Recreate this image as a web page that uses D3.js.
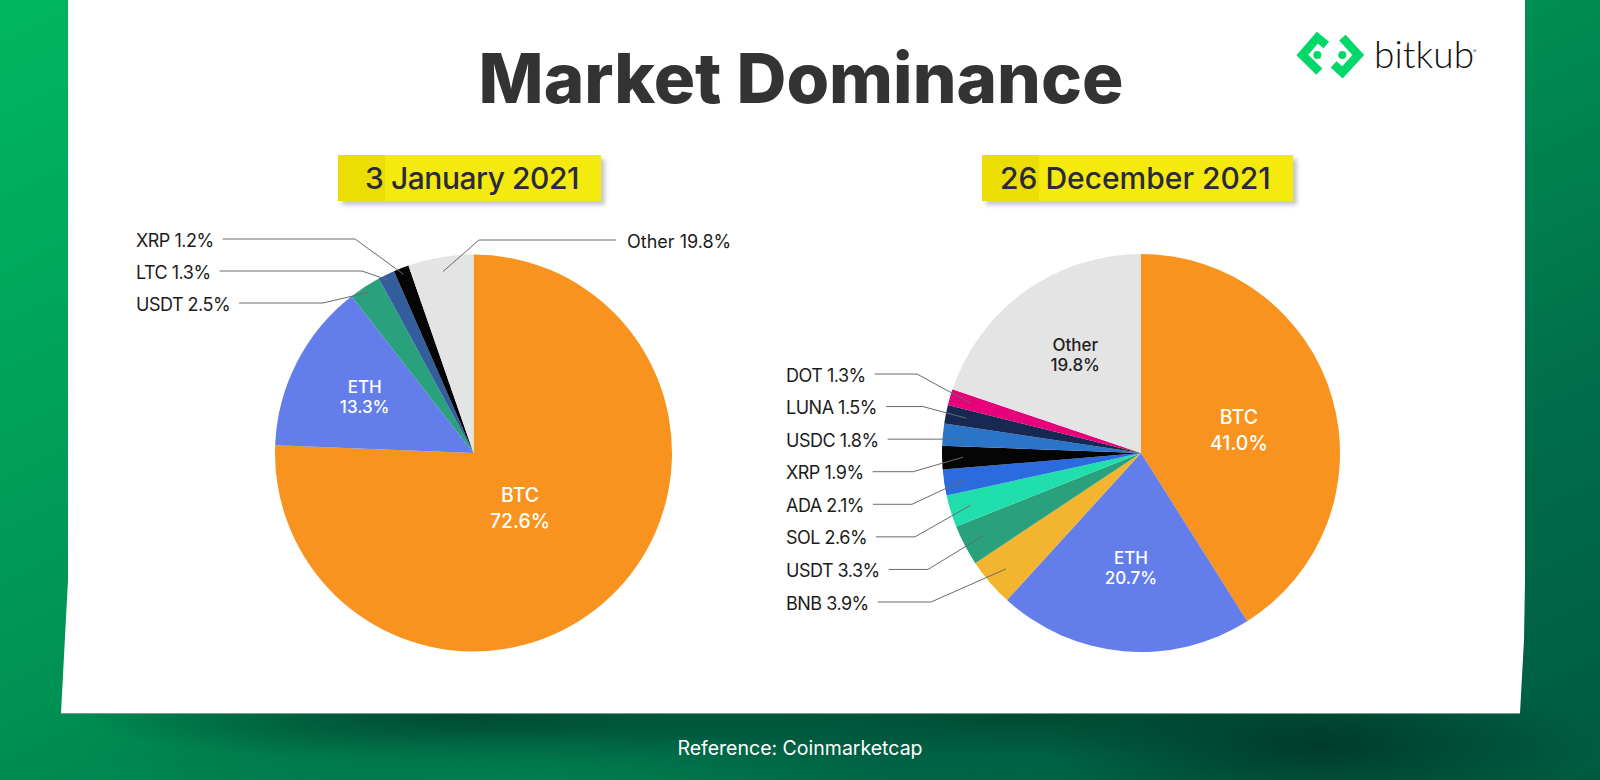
<!DOCTYPE html>
<html>
<head>
<meta charset="utf-8">
<title>Market Dominance</title>
<script src="https://d3js.org/d3.v7.min.js"></script>
<style>
  html, body { margin: 0; padding: 0; background: #00704c; }
  svg { display: block; }
  text { font-family: Inter, "Noto Sans", sans-serif; }
</style>
</head>
<body>
<div id="chart"></div>
<script>
// January pie. The "Other" wedge is drawn much smaller than its printed 19.8%
const janNames = ["BTC", "ETH", "USDT", "LTC", "XRP", "Other"];
const janSlices = [72.6, 13.3, 2.5, 1.3, 1.2, 5.1];
const janPrinted = [72.6, 13.3, 2.5, 1.3, 1.2, 19.8];
const janColors = ["#f7931e", "#637dea", "#28a17c", "#345d9d", "#050505", "#e4e4e4"];

// December pie
const decNames = ["BTC", "ETH", "BNB", "USDT", "SOL", "ADA", "XRP", "USDC", "LUNA", "DOT", "Other"];
const decSlices = [41.0, 20.7, 3.9, 3.3, 2.6, 2.1, 1.9, 1.8, 1.5, 1.3, 19.8];
const decColors = ["#f7931e", "#637dea", "#f3b52f", "#28a17c", "#20dfad", "#2a6bdd", "#050505", "#2a74c9", "#172852", "#e6007a", "#e4e4e4"];

const width = 1600, height = 780;

const svg = d3.select("#chart").append("svg")
    .attr("width", width)
    .attr("height", height);

const defs = svg.append("defs");

// background gradients
const bgGrad = defs.append("linearGradient").attr("id", "bg")
    .attr("x1", 0).attr("y1", 0).attr("x2", 1).attr("y2", 1);
bgGrad.append("stop").attr("offset", "0%").attr("stop-color", "#00b75f");
bgGrad.append("stop").attr("offset", "45%").attr("stop-color", "#009254");
bgGrad.append("stop").attr("offset", "75%").attr("stop-color", "#006d4a");
bgGrad.append("stop").attr("offset", "100%").attr("stop-color", "#005a40");

function glow(id, color, alpha) {
  const g = defs.append("radialGradient").attr("id", id);
  g.append("stop").attr("offset", "0%").attr("stop-color", color).attr("stop-opacity", alpha);
  g.append("stop").attr("offset", "100%").attr("stop-color", color).attr("stop-opacity", 0);
}
glow("darkGlow", "#003a2a", 1);
glow("midGlow", "#004a32", 1);
glow("lightGlow", "#007f4f", 1);
glow("wideShade", "#005e41", 0.9);

const shadow = defs.append("filter").attr("id", "noteShadow")
    .attr("x", "-5%").attr("y", "-10%").attr("width", "115%").attr("height", "130%");
shadow.append("feDropShadow")
    .attr("dx", 4).attr("dy", 4).attr("stdDeviation", 2)
    .attr("flood-color", "#000").attr("flood-opacity", 0.22);

defs.append("clipPath").attr("id", "bandClip")
  .append("rect").attr("x", 0).attr("y", 700).attr("width", width).attr("height", 80);

svg.append("rect").attr("width", width).attr("height", height).attr("fill", "url(#bg)");

// footer band glows
const band = svg.append("g").attr("clip-path", "url(#bandClip)");
const bandGlow = (cx, cy, rx, ry, fill) => band.append("ellipse")
    .attr("cx", cx).attr("cy", cy).attr("rx", rx).attr("ry", ry).attr("fill", fill);
bandGlow(800, 745, 720, 90, "url(#wideShade)");
bandGlow(470, 715, 400, 48, "url(#midGlow)");
bandGlow(1040, 715, 420, 42, "url(#midGlow)");
bandGlow(1320, 745, 280, 70, "url(#darkGlow)");
bandGlow(520, 785, 400, 55, "url(#lightGlow)");

// the paper sheet
svg.append("path")
    .attr("d", "M68,0 L68,580 L61,713 L1520,713 L1524,640 L1525,580 L1525,0 Z")
    .attr("fill", "#fff");
svg.append("line")
    .attr("x1", 61).attr("x2", 1520).attr("y1", 713.5).attr("y2", 713.5)
    .attr("stroke", "#7c9a8c").attr("stroke-width", 1);

// title
svg.append("text")
    .attr("x", 801).attr("y", 103)
    .attr("text-anchor", "middle")
    .attr("font-size", 69)
    .attr("font-weight", 800)
    .attr("fill", "#333333")
    .text("Market Dominance");

// logo
const logo = svg.append("g").attr("transform", "translate(1285,25) scale(0.3333)");
logo.append("path")
    .attr("d", "M124,60 L97,38 L52,90 L103,140")
    .attr("fill", "none").attr("stroke", "#00d96a").attr("stroke-width", 26);
logo.append("path")
    .attr("d", "M172,38 L220,90 L172,142 L146,118")
    .attr("fill", "none").attr("stroke", "#00d96a").attr("stroke-width", 26);
logo.selectAll("circle").data([97, 172]).join("circle")
    .attr("cx", d => d).attr("cy", 90).attr("r", 12).attr("fill", "#00d96a");
svg.append("text")
    .attr("x", 1374).attr("y", 68)
    .attr("font-size", 37)
    .attr("font-weight", 300)
    .attr("letter-spacing", 0.1)
    .attr("fill", "#111")
    .style("font-family", "Lato, sans-serif")
    .text("bitkub");
svg.append("text")
    .attr("x", 1473).attr("y", 53)
    .attr("font-size", 5)
    .attr("fill", "#444")
    .text("®");

// yellow date notes
function dateNote(x0, x1, foldX, label, textX, spacing) {
  svg.append("rect")
      .attr("x", x0).attr("y", 155).attr("width", x1 - x0).attr("height", 46)
      .attr("fill", "#f5ea0f")
      .attr("filter", "url(#noteShadow)");
  svg.append("rect")
      .attr("x", x0).attr("y", 155).attr("width", foldX - x0).attr("height", 46)
      .attr("fill", "#ecdd03");
  svg.append("text")
      .attr("x", textX).attr("y", 189)
      .attr("font-size", 30)
      .attr("font-weight", 500)
      .attr("letter-spacing", spacing)
      .attr("fill", "#2a2a3c")
      .text(label);
}
dateNote(338, 601, 385, "3 January 2021", 365, -0.45);
dateNote(982, 1293, 1039, "26 December 2021", 1000, 0);

// draws one pie; cfg says where each slice's text goes
function drawPie(cx, cy, r, names, slices, printed, colors, cfg) {
  const g = svg.append("g").attr("transform", `translate(${cx},${cy})`);

  const rows = names.map((name, i) => ({name, value: slices[i], printed: printed[i], color: colors[i]}));
  const pieData = d3.pie().sort(null).value(d => d.value).startAngle(0).endAngle(2 * Math.PI)(rows);
  const arc = d3.arc().innerRadius(0).outerRadius(r);

  g.selectAll("path.slice")
    .data(pieData)
    .join("path")
      .attr("class", "slice")
      .attr("d", arc)
      .attr("fill", d => d.data.color);

  // labels inside the big slices
  pieData.filter(d => cfg.inside[d.data.name]).forEach(d => {
    const o = cfg.inside[d.data.name];
    const c = d3.arc().innerRadius(o.radius).outerRadius(o.radius).centroid(d);
    const x = c[0] + (o.nudgeX || 0);
    const y = c[1] + (o.nudgeY || 0) + 6.5;
    g.append("text").attr("x", x).attr("y", y - o.gap / 2)
        .attr("text-anchor", "middle")
        .attr("font-size", o.size).attr("font-weight", 500).attr("fill", o.fill)
        .text(d.data.name);
    g.append("text").attr("x", x).attr("y", y + o.gap / 2)
        .attr("text-anchor", "middle")
        .attr("font-size", o.size).attr("font-weight", 500).attr("fill", o.fill)
        .text(d.data.printed.toFixed(1) + "%");
  });

  // callouts: label, horizontal run, then a diagonal into the slice
  const rowY = d3.scalePoint().domain(cfg.rowOrder).range(cfg.rowRange);

  pieData.filter(d => cfg.elbow[d.data.name] !== undefined).forEach(d => {
    const name = d.data.name;
    const reach = d3.arc().innerRadius(cfg.reach(name)).outerRadius(cfg.reach(name)).centroid(d);
    const toRight = name === cfg.rightLabel;
    const y = toRight ? cfg.rightY : rowY(name);
    const labelX = toRight ? cfg.rightX : cfg.labelX;

    const label = svg.append("text")
        .attr("x", labelX).attr("y", y)
        .attr("dy", "0.42em")
        .attr("font-size", 18)
        .attr("font-weight", 400)
        .attr("letter-spacing", toRight ? 0 : -0.5)
        .attr("fill", "#1c1c1c")
        .text(name + " " + d.data.printed.toFixed(1) + "%");

    const startX = toRight ? labelX - 11 : labelX + label.node().getComputedTextLength() + 9;
    const line = [[startX, y]];
    if (cfg.elbow[name] !== null) line.push([cfg.elbow[name], y]);
    line.push([cx + reach[0], cfg.elbow[name] === null ? y : cy + reach[1]]);

    svg.append("path")
        .attr("d", d3.line()(line))
        .attr("fill", "none")
        .attr("stroke", "#6a6a6a")
        .attr("stroke-width", 1);
  });
}

drawPie(473.5, 453, 198.5, janNames, janSlices, janPrinted, janColors, {
  inside: {
    BTC: {radius: 70, fill: "#fff", size: 19.5, gap: 25.5, nudgeX: -2, nudgeY: 5},
    ETH: {radius: 119, fill: "#fff", size: 17, gap: 20, nudgeX: -3, nudgeY: -2}
  },
  rowOrder: ["XRP", "LTC", "USDT"],
  rowRange: [239, 303],
  labelX: 136,
  rightLabel: "Other",
  rightX: 627,
  rightY: 240,
  elbow: {XRP: 355, LTC: 362, USDT: 323, Other: 479},
  reach: name => name === "Other" ? 184 : 192
});

drawPie(1141, 453, 199, decNames, decSlices, decSlices, decColors, {
  inside: {
    BTC: {radius: 103, fill: "#fff", size: 19.5, gap: 25.5, nudgeX: -1, nudgeY: 6},
    ETH: {radius: 114, fill: "#fff", size: 17, gap: 20, nudgeX: 0, nudgeY: 1},
    Other: {radius: 118, fill: "#222", size: 17, gap: 20, nudgeX: 3, nudgeY: -3}
  },
  rowOrder: ["DOT", "LUNA", "USDC", "XRP", "ADA", "SOL", "USDT", "BNB"],
  rowRange: [374, 602],
  labelX: 786,
  rightLabel: null,
  elbow: {DOT: 917, LUNA: 923, USDC: null, XRP: 913, ADA: 912, SOL: 915, USDT: 928, BNB: 931},
  reach: () => 178
});

// footer
svg.append("text")
    .attr("x", 800).attr("y", 755)
    .attr("text-anchor", "middle")
    .attr("font-size", 19.5)
    .attr("fill", "#fff")
    .text("Reference: Coinmarketcap");
</script>
</body>
</html>
